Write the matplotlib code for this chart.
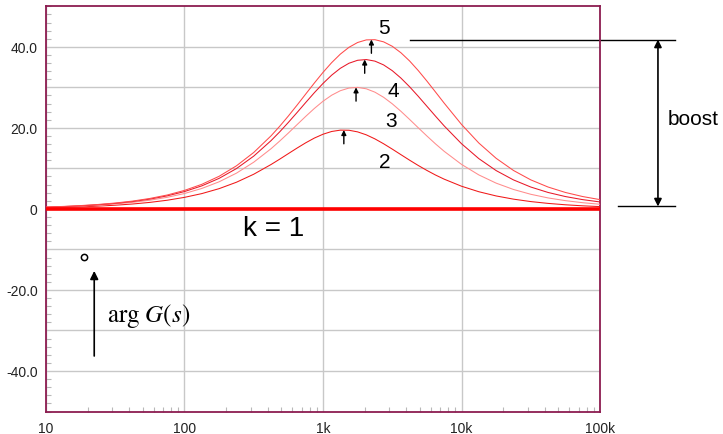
import matplotlib
matplotlib.use('Agg')
import matplotlib.pyplot as plt
from matplotlib.ticker import FixedLocator, NullFormatter

plt.rcParams['font.family'] = ['Liberation Sans', 'DejaVu Sans']
plt.rcParams['mathtext.fontset'] = 'stix'

# Phase of the lead network, degrees; 1/8 decade steps, 1/16 around the hump
freq_hz = [10, 13.34, 17.78, 23.71, 31.62, 42.17, 56.23, 74.99,
           100, 133.4, 177.8, 237.1, 316.2, 421.7, 487.0, 562.3, 649.4, 749.9, 866.0,
           1000, 1155, 1334, 1540, 1778, 2054, 2371, 2738, 3162, 3652, 4217, 4870,
           5623, 6494, 7499,
           10000, 13335, 17783, 23714, 31623, 42170, 56234, 74989, 100000]

phase_k2 = [0.29, 0.38, 0.51, 0.68, 0.91, 1.21, 1.61, 2.14,
            2.85, 3.78, 5.00, 6.58, 8.56, 10.96, 12.28, 13.65, 15.01, 16.31, 17.48,
            18.43, 19.11, 19.44, 19.41, 19.01, 18.28, 17.28, 16.08, 14.76, 13.39, 12.03, 10.72,
            9.50, 8.36, 7.34,
            5.60, 4.24, 3.20, 2.41, 1.81, 1.36, 1.02, 0.76, 0.57]
phase_k3 = [0.38, 0.51, 0.68, 0.91, 1.21, 1.61, 2.15, 2.86,
            3.80, 5.05, 6.69, 8.82, 11.53, 14.86, 16.75, 18.73, 20.79, 22.83, 24.79,
            26.57, 28.06, 29.17, 29.83, 29.99, 29.64, 28.81, 27.55, 25.94, 24.09, 22.09, 20.03,
            18.00, 16.04, 14.21,
            10.99, 8.39, 6.36, 4.80, 3.61, 2.71, 2.04, 1.53, 1.15]
phase_k4 = [0.43, 0.57, 0.76, 1.02, 1.36, 1.81, 2.42, 3.22,
            4.28, 5.69, 7.54, 9.95, 13.03, 16.85, 19.02, 21.35, 23.78, 26.25, 28.68,
            30.96, 33.01, 34.70, 35.95, 36.68, 36.86, 36.47, 35.54, 34.12, 32.29, 30.15, 27.80,
            25.34, 22.88, 20.48,
            16.09, 12.41, 9.46, 7.16, 5.40, 4.06, 3.05, 2.29, 1.72]
phase_k5 = [0.46, 0.61, 0.82, 1.09, 1.45, 1.93, 2.58, 3.43,
            4.57, 6.07, 8.05, 10.63, 13.93, 18.04, 20.40, 22.93, 25.60, 28.34, 31.07,
            33.69, 36.10, 38.20, 39.88, 41.07, 41.71, 41.76, 41.23, 40.14, 38.54, 36.52, 34.15,
            31.56, 28.84, 26.10,
            20.85, 16.26, 12.49, 9.49, 7.17, 5.40, 4.06, 3.05, 2.29]
phase_k1 = [0.0] * len(freq_hz)

curve_labels = ['2', '3', '4', '5']
curve_colors = ['#f01818', '#ff8c8c', '#e81828', '#ff4a4a']

# maximum phase of each curve (frequency, degrees)
peak_freq = [1414, 1732, 2000, 2236]
peak_phase = [19.47, 30.0, 36.87, 41.81]

x_ticks = [10, 100, 1000, 10000, 100000]
x_ticklabels = ['10', '100', '1k', '10k', '100k']
y_ticks = [-40, -30, -20, -10, 0, 10, 20, 30, 40]
y_ticklabels = ['-40.0', '', '-20.0', '', '0', '', '20.0', '', '40.0']

fig = plt.figure(figsize=(7.23, 4.35), dpi=100)
ax = fig.add_axes([0.0636, 0.0517, 0.7663, 0.9315])

ax.set_xscale('log')
ax.set_xlim(10, 100000)
ax.set_ylim(-50, 50)

ax.plot(freq_hz, phase_k1, color='#ff0000', lw=2.6, zorder=4, solid_capstyle='butt')
for ph, c in zip([phase_k2, phase_k3, phase_k4, phase_k5], curve_colors):
    ax.plot(freq_hz, ph, color=c, lw=0.75, zorder=3)

# little arrows pointing at each maximum
for f, p in zip(peak_freq, peak_phase):
    ax.annotate('', xy=(f, p), xytext=(f, p - 3.4),
                arrowprops=dict(arrowstyle='-|>', color='black', lw=1.0,
                                mutation_scale=7, shrinkA=0, shrinkB=0), zorder=5)

label_pos = [(2805, 11.7), (3097, 21.8), (3200, 29.1), (2757, 44.7)]
for (lx, ly), s in zip(label_pos, curve_labels):
    ax.text(lx, ly, s, fontsize=15, ha='center', va='center', color='black')

ax.text(443, -4.6, 'k = 1', fontsize=20, ha='center', va='center', color='black')

# phase axis hint
ax.plot([18.9], [-11.85], marker='o', ms=4.5, mfc='white', mec='black', mew=1.1, zorder=6)
ax.annotate('', xy=(22.3, -15.3), xytext=(22.3, -36.3),
            arrowprops=dict(arrowstyle='-|>', color='black', lw=1.2,
                            mutation_scale=12, shrinkA=0, shrinkB=0))
ax.text(27.4, -26.3, r'$\mathrm{arg}\ \mathit{G(s)}$', fontsize=18, ha='left', va='center')

# boost dimension on the right
ax.plot([4250, 348000], [41.8, 41.8], color='black', lw=1.0, clip_on=False)
ax.plot([135000, 348000], [0.6, 0.6], color='black', lw=1.0, clip_on=False)
ax.annotate('', xy=(262000, 41.8), xytext=(262000, 0.6),
            arrowprops=dict(arrowstyle='<|-|>', color='black', lw=1.2,
                            mutation_scale=11, shrinkA=0, shrinkB=0),
            annotation_clip=False)
ax.text(310000, 22.3, 'boost', fontsize=15, ha='left', va='center')

ax.xaxis.set_major_locator(FixedLocator(x_ticks))
ax.set_xticklabels(x_ticklabels)
ax.yaxis.set_major_locator(FixedLocator(y_ticks))
ax.set_yticklabels(y_ticklabels)
ax.xaxis.set_minor_formatter(NullFormatter())
ax.yaxis.set_minor_locator(FixedLocator(list(range(-50, 51, 2))))

ax.tick_params(which='major', length=0, labelsize=10, pad=6, colors='#222222')
ax.tick_params(which='minor', direction='in', length=3.5, width=0.8, color='#b8b8b8')
ax.tick_params(axis='x', which='major', pad=7)

ax.grid(True, which='major', color='#c8c8c8', lw=1.0)
ax.set_axisbelow(True)

for side in ['top', 'bottom', 'left', 'right']:
    ax.spines[side].set_color('#8c1c50')
    ax.spines[side].set_linewidth(1.3)

fig.savefig('out.png', dpi=100)
